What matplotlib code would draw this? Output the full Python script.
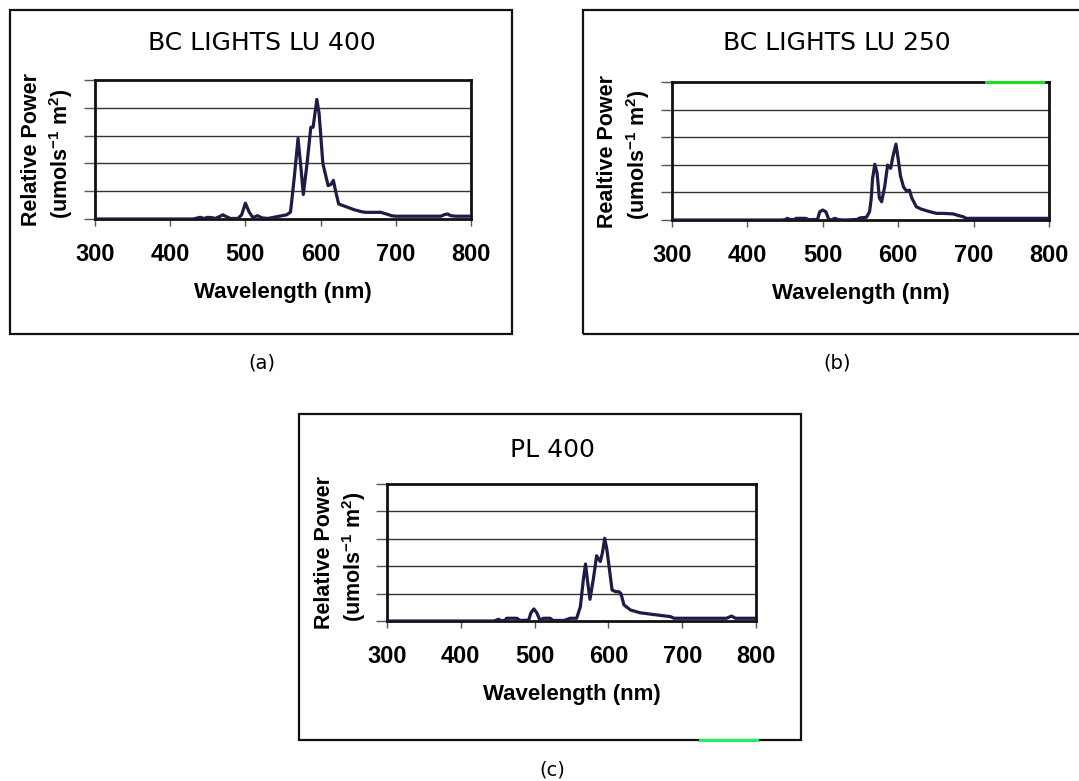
import matplotlib
matplotlib.use("Agg")
import matplotlib.pyplot as plt
from matplotlib.patches import Rectangle
from matplotlib.lines import Line2D

W, H = 1079, 781

# spectra (nm, relative power)
wl_a = [300, 430, 440, 445, 450, 455, 460, 465, 470, 475, 480, 490, 495, 500, 505, 510, 516,
        522, 530, 545, 555, 560, 565, 570, 574, 577, 582, 587, 590, 595, 598, 603, 610, 614,
        617, 620, 624, 630, 636, 645, 655, 660, 680, 690, 694, 700, 760, 765, 769, 773, 780, 800]
pw_a = [0, 0, 0.06, 0.02, 0.06, 0.05, 0.02, 0.08, 0.15, 0.08, 0.02, 0.02, 0.15, 0.57, 0.25,
        0.05, 0.12, 0.04, 0.02, 0.1, 0.15, 0.25, 1.5, 2.9, 1.8, 0.88, 2.0, 3.3, 3.3, 4.3, 3.8,
        2.0, 1.2, 1.25, 1.39, 1.0, 0.54, 0.48, 0.42, 0.33, 0.26, 0.24, 0.24, 0.16, 0.12, 0.1,
        0.1, 0.16, 0.18, 0.12, 0.1, 0.1]

wl_b = [300, 445, 450, 453, 457, 462, 465, 470, 477, 482, 493, 496, 500, 504, 508, 512, 516,
        521, 530, 545, 550, 558, 562, 564, 566, 569, 572, 575, 578, 582, 586, 590, 593, 597,
        600, 603, 607, 611, 615, 618, 624, 630, 637, 645, 651, 660, 673, 680, 686, 690, 800]
pw_b = [0, 0, 0.01, 0.06, 0.01, 0.02, 0.06, 0.06, 0.06, 0.01, 0.02, 0.3, 0.36, 0.3, 0.02,
        0.01, 0.06, 0.01, 0.0, 0.02, 0.08, 0.1, 0.3, 0.72, 1.5, 2.02, 1.7, 0.8, 0.66, 1.2,
        1.99, 1.87, 2.3, 2.75, 2.2, 1.6, 1.2, 1.05, 1.08, 0.8, 0.48, 0.4, 0.34, 0.28, 0.24,
        0.24, 0.22, 0.16, 0.12, 0.06, 0.06]

wl_c = [300, 445, 451, 455, 460, 462, 470, 476, 480, 492, 495, 499, 503, 507, 512, 521, 525,
        540, 548, 557, 562, 566, 569, 572, 575, 580, 584, 589, 592, 595, 598, 605, 610, 614,
        617, 621, 630, 643, 666, 672, 684, 689, 760, 767, 772, 800]
pw_c = [0, 0, 0.06, 0.01, 0.02, 0.1, 0.1, 0.1, 0.02, 0.03, 0.3, 0.44, 0.3, 0.04, 0.1, 0.1,
        0.02, 0.02, 0.1, 0.1, 0.52, 1.5, 2.08, 1.4, 0.79, 1.6, 2.38, 2.17, 2.5, 3.02, 2.6, 1.13,
        1.07, 1.07, 1.0, 0.59, 0.40, 0.30, 0.22, 0.2, 0.16, 0.1, 0.1, 0.18, 0.1, 0.1]

titles = ["BC LIGHTS LU 400", "BC LIGHTS LU 250", "PL 400"]
ylabels = ["Relative Power", "Realtive Power", "Relative Power"]
captions = ["(a)", "(b)", "(c)"]
xticks = [300, 400, 500, 600, 700, 800]
grid_levels = [0, 1, 2, 3, 4, 5]

# pixel layouts: outer box, plot area, title centre, caption
panels = [
    dict(box=(10, 10, 512, 334), ax=(95, 80, 471, 219), title=(262, 43), cap=(262, 363)),
    dict(box=(583, 10, 1095, 334), ax=(672, 82, 1049, 220), title=(837, 43), cap=(837, 363)),
    dict(box=(299, 414, 801, 740), ax=(387, 484, 756, 621), title=(552, 450), cap=(552, 770)),
]
data = [(wl_a, pw_a), (wl_b, pw_b), (wl_c, pw_c)]
line_col = "#1c1c44"
bold = dict(fontfamily="Liberation Sans", fontweight="bold")

fig = plt.figure(figsize=(W / 100, H / 100), dpi=100)
fig.patch.set_facecolor("white")


def fx(px):
    return px / W


def fy(py):
    return 1 - py / H


for i, p in enumerate(panels):
    bx0, by0, bx1, by1 = p["box"]
    fig.patches.append(Rectangle((fx(bx0), fy(by1)), fx(bx1 - bx0), (by1 - by0) / H,
                                 transform=fig.transFigure, fill=False,
                                 edgecolor="#111111", lw=1.6))
    x0, y0, x1, y1 = p["ax"]
    ax = fig.add_axes([fx(x0), fy(y1), fx(x1 - x0), (y1 - y0) / H])
    wl, pw = data[i]
    ax.plot(wl, pw, color=line_col, lw=2.3, solid_joinstyle="round", zorder=3)
    ax.set_xlim(300, 800)
    ax.set_ylim(0, 5)
    ax.set_xticks(xticks)
    ax.set_xticklabels([str(t) for t in xticks], fontsize=17, **bold)
    ax.set_yticks(grid_levels)
    ax.set_yticklabels([])
    ax.tick_params(axis="x", length=5, width=1, pad=12, color="#555555")
    ax.tick_params(axis="y", length=8, width=1, color="#555555")
    for lv in grid_levels[1:-1]:
        ax.axhline(lv, color="#333333", lw=1.0, zorder=1)
    for s in ax.spines.values():
        s.set_linewidth(2.0)
        s.set_color("#111111")
    ax.set_xlabel("Wavelength (nm)", fontsize=16, labelpad=12, **bold)
    ax.text(-0.17, 0.5, ylabels[i], transform=ax.transAxes, rotation=90, ha="center",
            va="center", fontsize=15.5, **bold)
    ax.text(-0.09, 0.47, r"(umols$^{\mathregular{-1}}$ m$^{\mathregular{2}}$)",
            transform=ax.transAxes, rotation=90, ha="center", va="center",
            fontsize=15.5, **bold)
    fig.text(fx(p["title"][0]), fy(p["title"][1]), titles[i], ha="center", va="center",
             fontfamily="DejaVu Sans", fontsize=18)
    fig.text(fx(p["cap"][0]), fy(p["cap"][1]), captions[i], ha="center", va="center",
             fontfamily="DejaVu Sans", fontsize=14)

# scanner colour streaks on two borders
fig.lines.append(Line2D([fx(986), fx(1043)], [fy(82), fy(82)], transform=fig.transFigure,
                        color="#22dd22", lw=2.2))
fig.lines.append(Line2D([fx(700), fx(757)], [fy(740), fy(740)], transform=fig.transFigure,
                        color="#22ee66", lw=2.2))

fig.savefig("out.png", dpi=100, facecolor="white")
